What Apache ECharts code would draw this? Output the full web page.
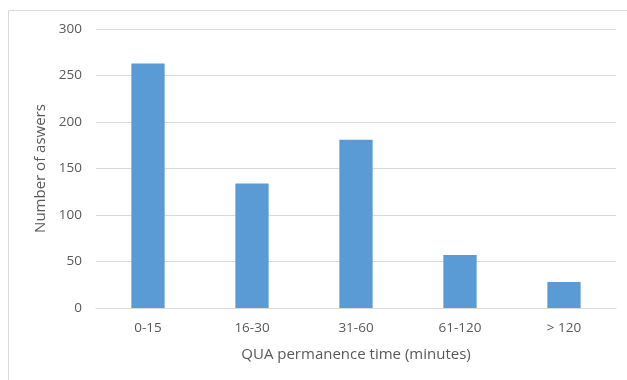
<!DOCTYPE html>
<html>
<head>
<meta charset="utf-8">
<script src="https://cdn.jsdelivr.net/npm/echarts@6/dist/echarts.min.js"></script>
<style>
  html, body { margin: 0; padding: 0; background: #fff; }
  #chart { width: 627px; height: 380px; }
</style>
</head>
<body>
<div id="chart"></div>
<script>
// Survey answers grouped by time spent in the QUA
const categories = ['0-15', '16-30', '31-60', '61-120', '> 120'];
const answers = [263, 134, 181, 57, 28];
const yTicks = { min: 0, max: 300, interval: 50 };

const textColor = '#595959';
const fontFamily = '"Open Sans", "Liberation Sans", sans-serif';

const chart = echarts.init(document.getElementById('chart'), null, { renderer: 'canvas' });
chart.setOption({
  animation: false,
  backgroundColor: '#ffffff',
  // chart frame: only the top and left edges fall inside the page
  graphic: [
    {
      type: 'line',
      shape: { x1: 8.5, y1: 10.5, x2: 627, y2: 10.5 },
      style: { stroke: '#d9d9d9', lineWidth: 1 },
      silent: true
    },
    {
      type: 'line',
      shape: { x1: 8.5, y1: 10.5, x2: 8.5, y2: 380 },
      style: { stroke: '#d9d9d9', lineWidth: 1 },
      silent: true
    }
  ],
  grid: { left: 96, right: 11, top: 29, bottom: 72, containLabel: false },
  xAxis: {
    type: 'category',
    data: categories,
    name: 'QUA permanence time (minutes)',
    nameLocation: 'middle',
    nameGap: 39,
    nameTextStyle: { color: textColor, fontSize: 15, fontFamily },
    axisLine: { show: true, lineStyle: { color: '#d9d9d9', width: 1 } },
    axisTick: { show: false },
    axisLabel: { color: textColor, fontSize: 13.5, fontFamily, margin: 13 }
  },
  yAxis: {
    type: 'value',
    min: yTicks.min,
    max: yTicks.max,
    interval: yTicks.interval,
    name: 'Number of aswers',
    nameLocation: 'middle',
    nameGap: 48,
    nameRotate: 90,
    nameTextStyle: { color: textColor, fontSize: 15, fontFamily },
    axisLine: { show: false },
    axisTick: { show: false },
    axisLabel: { color: textColor, fontSize: 13.5, fontFamily, margin: 14 },
    splitLine: { lineStyle: { color: '#d9d9d9', width: 1 } }
  },
  series: [{
    type: 'bar',
    data: answers,
    barWidth: '32%',
    itemStyle: { color: '#5b9bd5' }
  }]
});
</script>
</body>
</html>
